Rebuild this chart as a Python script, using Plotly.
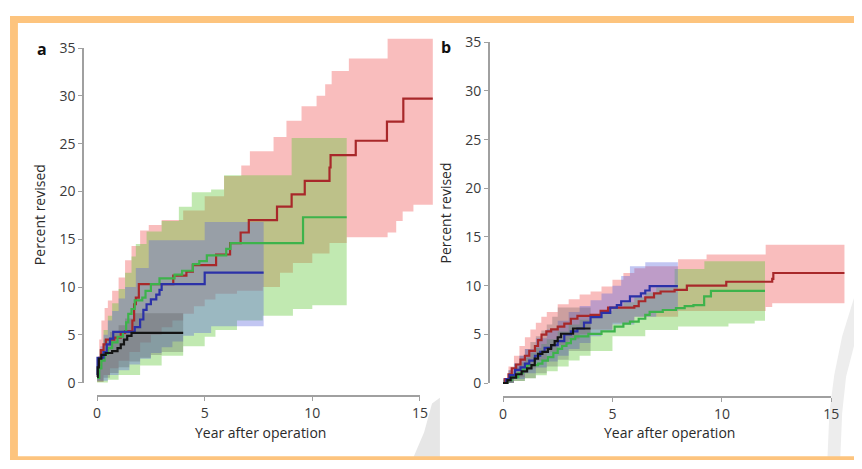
import plotly.graph_objects as go

# ---------------- Panel a data ----------------
A_RED_T = [0, 0.05, 0.1, 0.18, 0.3, 0.41, 0.8, 1.1, 1.3, 1.64, 1.72, 1.8, 1.94, 3.54, 4.15, 4.45, 5.53, 6.18, 6.67, 7.05, 8.36, 9.04, 9.65, 10.8, 10.85, 12.02, 13.47, 14.23]
A_RED_V = [0.8, 1.8, 2.6, 3.4, 4.0, 4.5, 4.7, 5.2, 5.4, 6.5, 8.2, 8.9, 10.3, 11.2, 11.6, 12.3, 13.4, 14.6, 15.7, 17.0, 18.4, 19.7, 21.1, 22.5, 23.8, 25.3, 27.3, 29.7]
A_RED_END = 15.6
A_GRN_T = [0, 0.1, 0.2, 0.35, 0.5, 0.7, 0.95, 1.2, 1.35, 1.45, 1.6, 1.75, 2.1, 2.25, 2.5, 2.9, 3.6, 3.95, 4.45, 4.75, 5.1, 6.0, 6.2, 9.57]
A_GRN_V = [0.5, 1.5, 2.3, 3.0, 3.6, 4.2, 4.8, 5.3, 6.3, 7.2, 7.7, 8.6, 8.9, 9.6, 10.3, 10.9, 11.3, 11.7, 12.4, 12.7, 13.3, 14.0, 14.6, 17.3]
A_GRN_END = 11.6
A_BLU_T = [0, 0.02, 0.3, 0.45, 0.6, 0.75, 1.75, 2.0, 2.15, 2.3, 2.5, 2.75, 2.9, 3.0, 5.0]
A_BLU_V = [0.8, 2.6, 3.2, 4.0, 4.6, 5.3, 5.8, 6.6, 7.6, 8.2, 8.7, 9.2, 9.7, 10.3, 11.5]
A_BLU_END = 7.74
A_BLK_T = [0, 0.03, 0.08, 0.2, 0.4, 0.7, 0.95, 1.1, 1.25, 1.4, 1.6]
A_BLK_V = [0.6, 1.6, 2.5, 2.9, 3.1, 3.3, 3.6, 4.0, 4.5, 4.9, 5.2]
A_BLK_END = 4.0

A_RED_UT = [0, 0.1, 0.2, 0.35, 0.5, 0.7, 1.0, 1.3, 1.6, 2.0, 2.4, 3.0, 4.0, 5.0, 5.9, 6.7, 7.1, 8.2, 8.8, 9.5, 10.2, 10.6, 10.9, 11.7, 13.5]
A_RED_UP = [2.0, 4.5, 6.5, 7.8, 8.6, 9.6, 11.0, 12.8, 14.3, 15.9, 16.5, 17.0, 18.0, 19.5, 21.6, 22.7, 24.2, 25.7, 27.4, 28.9, 30.0, 31.2, 32.6, 33.9, 36.0]
A_RED_LT = [0, 0.3, 0.6, 1.0, 1.5, 2.0, 2.5, 3.0, 3.5, 4.0, 4.5, 5.0, 5.5, 6.5, 7.7, 8.5, 9.1, 10.0, 10.8, 11.6, 13.5, 13.9, 14.2, 14.7]
A_RED_LO = [0.1, 0.8, 1.5, 2.3, 3.2, 4.2, 5.0, 5.8, 6.5, 7.2, 8.0, 8.7, 9.3, 9.6, 10.0, 11.5, 12.5, 13.5, 14.6, 15.2, 15.7, 16.9, 17.9, 18.6]
A_GRN_UT = [0, 0.15, 0.3, 0.5, 0.7, 1.0, 1.3, 1.6, 1.8, 2.3, 3.0, 3.8, 4.4, 5.3, 5.9, 9.04]
A_GRN_UP = [1.5, 3.5, 5.5, 7.0, 8.3, 9.8, 11.5, 13.2, 14.5, 15.8, 16.9, 18.4, 19.9, 20.2, 21.7, 25.6]
A_GRN_LT = [0, 0.5, 1.0, 2.0, 3.0, 4.0, 5.0, 5.5, 6.5, 7.7, 9.1, 10.0]
A_GRN_LO = [0.0, 0.3, 0.8, 1.8, 2.8, 3.8, 4.8, 5.5, 6.5, 7.0, 7.7, 8.1]
A_BLU_UT = [0, 0.15, 0.3, 0.5, 0.7, 1.0, 1.3, 1.8, 2.4, 5.0]
A_BLU_UP = [2.0, 3.8, 5.0, 6.5, 7.5, 8.8, 10.0, 12.0, 14.9, 16.8]
A_BLU_LT = [0, 0.5, 1.0, 1.5, 2.0, 2.5, 3.0, 3.5, 4.0, 4.5, 5.3]
A_BLU_LO = [0.2, 0.8, 1.3, 1.9, 2.5, 3.1, 3.7, 4.3, 4.9, 5.2, 5.9]
A_BLK_UT = [0, 0.1, 0.3, 0.6, 1.0, 1.3, 1.7]
A_BLK_UP = [1.5, 3.5, 4.5, 5.3, 6.0, 6.7, 7.25]
A_BLK_LT = [0, 0.3, 0.6, 1.0, 1.5, 2.0, 2.5, 3.0]
A_BLK_LO = [0.1, 0.5, 1.0, 1.6, 2.2, 2.6, 2.9, 3.2]

# ---------------- Panel b data ----------------
B_RED_T = [0, 0.1, 0.25, 0.4, 0.6, 0.8, 1.0, 1.2, 1.46, 1.6, 1.76, 1.98, 2.2, 2.5, 2.8, 3.1, 3.4, 4.0, 4.46, 4.8, 6.0, 6.2, 6.5, 6.9, 7.2, 7.84, 8.4, 10.2, 12.3, 12.35]
B_RED_V = [0, 0.4, 0.9, 1.5, 1.9, 2.4, 2.8, 3.3, 3.8, 4.4, 4.96, 5.3, 5.5, 5.8, 6.1, 6.6, 6.9, 7.0, 7.4, 7.75, 7.9, 8.4, 8.8, 9.2, 9.4, 9.56, 10.0, 10.4, 10.7, 11.3]
B_RED_END = 15.6
B_GRN_T = [0, 0.2, 0.4, 0.7, 0.9, 1.1, 1.6, 1.8, 2.05, 2.3, 2.5, 2.7, 2.9, 3.1, 3.3, 3.9, 4.5, 5.1, 5.5, 5.8, 6.2, 6.5, 6.7, 7.3, 7.9, 8.3, 8.7, 9.19, 9.5]
B_GRN_V = [0, 0.3, 0.6, 1.0, 1.4, 1.84, 2.0, 2.3, 2.66, 3.1, 3.5, 3.8, 4.1, 4.5, 4.8, 5.05, 5.3, 5.8, 6.1, 6.3, 6.6, 7.0, 7.3, 7.5, 7.7, 7.9, 8.0, 8.9, 9.46]
B_GRN_END = 11.97
B_BLU_T = [0, 0.15, 0.3, 0.55, 0.8, 1.0, 1.2, 1.46, 1.7, 1.9, 2.2, 2.5, 2.8, 3.1, 3.4, 3.7, 4.0, 4.5, 4.9, 5.2, 5.4, 5.8, 6.3, 6.5, 6.7]
B_BLU_V = [0, 0.4, 0.8, 1.35, 1.6, 2.0, 2.3, 2.8, 3.2, 3.6, 3.9, 4.3, 5.0, 5.3, 5.6, 6.2, 6.77, 7.2, 7.75, 8.0, 8.4, 8.9, 9.2, 9.5, 9.95]
B_BLU_END = 7.99
B_BLK_T = [0, 0.2, 0.35, 0.6, 0.85, 1.1, 1.3, 1.45, 1.6, 1.8, 2.05, 2.2, 2.36, 2.5, 2.65, 3.2]
B_BLK_V = [0, 0.3, 0.55, 0.9, 1.2, 1.5, 1.84, 2.5, 3.0, 3.2, 3.5, 3.9, 4.3, 4.7, 5.06, 5.6]
B_BLK_END = 4.0

B_RED_UT = [0, 0.25, 0.5, 0.75, 1.0, 1.25, 1.5, 1.75, 2.0, 2.5, 3.0, 3.5, 4.0, 4.5, 5.0, 5.5, 6.0, 6.5, 8.0, 9.3, 12.0]
B_RED_UP = [0.5, 1.7, 2.8, 3.8, 4.7, 5.5, 6.2, 6.8, 7.3, 8.1, 8.6, 9.1, 9.4, 9.9, 10.6, 11.3, 11.8, 12.0, 12.7, 13.2, 14.2]
B_RED_LT = [0, 0.5, 1.0, 1.5, 2.0, 2.5, 3.0, 3.5, 4.0, 5.0, 6.0, 8.0, 12.0, 12.3]
B_RED_LO = [0, 0.6, 1.5, 2.3, 3.2, 3.9, 4.5, 5.0, 5.5, 6.2, 6.8, 7.4, 7.8, 8.2]
B_GRN_UT = [0, 0.25, 0.5, 0.75, 1.0, 1.25, 1.5, 1.75, 2.0, 2.5, 3.0, 3.5, 4.0, 4.5, 5.0, 5.5, 6.0, 6.5, 7.0, 7.84, 9.2]
B_GRN_UP = [0.3, 1.0, 1.6, 2.1, 2.6, 3.1, 3.6, 4.0, 4.5, 5.3, 6.0, 6.5, 7.0, 7.4, 7.8, 8.3, 8.8, 9.3, 9.8, 11.7, 12.5]
B_GRN_LT = [0, 0.5, 1.0, 1.5, 2.0, 2.5, 3.0, 3.5, 4.0, 5.0, 6.5, 8.0, 10.3, 11.5]
B_GRN_LO = [0, 0.2, 0.5, 0.8, 1.2, 1.7, 2.3, 2.8, 3.3, 4.8, 5.45, 5.8, 6.1, 6.4]
B_BLU_UT = [0, 0.25, 0.5, 0.75, 1.0, 1.5, 2.0, 2.5, 3.0, 3.5, 4.0, 4.5, 5.0, 5.4, 5.8, 6.5]
B_BLU_UP = [0.5, 1.3, 2.0, 2.8, 3.5, 4.6, 5.5, 6.4, 7.3, 7.9, 8.5, 9.2, 10.0, 11.0, 12.0, 12.4]
B_BLU_LT = [0, 0.5, 1.0, 1.5, 2.0, 2.5, 3.0, 3.5, 4.0, 4.5, 5.0, 6.0, 7.0]
B_BLU_LO = [0, 0.4, 1.0, 1.6, 2.2, 2.8, 3.5, 4.1, 4.8, 5.4, 6.0, 6.8, 7.4]
B_BLK_UT = [0, 0.25, 0.5, 0.75, 1.0, 1.25, 1.5, 1.75, 2.0, 2.25, 2.5]
B_BLK_UP = [0.5, 1.3, 2.0, 2.8, 3.5, 4.2, 4.8, 5.4, 6.0, 6.8, 7.75]
B_BLK_LT = [0, 0.5, 1.0, 1.5, 2.0, 2.5, 3.0]
B_BLK_LO = [0, 0.2, 0.5, 1.0, 1.7, 2.4, 3.3]

X_TICKS = [0, 5, 10, 15]
Y_TICKS = [0, 5, 10, 15, 20, 25, 30, 35]
X_TITLE = "Year after operation"
Y_TITLE = "Percent revised"
PANELS = ["a", "b"]

LINE_COL = {"red": "#a8282a", "grn": "#3db34b", "blu": "#2b31a8", "blk": "#141414"}
BAND_COL = {"red": "rgba(240,90,90,0.40)", "grn": "rgba(100,200,60,0.40)",
            "blu": "rgba(90,100,220,0.37)", "blk": "rgba(70,70,70,0.25)"}
FONT = "Open Sans"

# the browser body has an 8px margin, so the figure sits 8px in
OFF = 8
W, H = 862 - OFF, 469 - OFF


def px(p):
    return (p - OFF) / W


def py(p):
    return 1 - (p - OFF) / H


def step_xy(t, v, end):
    xs, ys = [], []
    for i in range(len(t)):
        if i > 0:
            xs.append(t[i]); ys.append(v[i - 1])
        xs.append(t[i]); ys.append(v[i])
    xs.append(end); ys.append(v[-1])
    return xs, ys


def band(ut, up, lt, lo, end, col, xa, ya):
    ux, uy = step_xy(ut, up, end)
    lx, ly = step_xy(lt, lo, end)
    return go.Scatter(x=ux + lx[::-1], y=uy + ly[::-1], fill="toself", fillcolor=col,
                      line=dict(width=0), mode="lines", xaxis=xa, yaxis=ya,
                      showlegend=False, hoverinfo="skip")


def kline(t, v, end, col, xa, ya):
    return go.Scatter(x=t + [end], y=v + [v[-1]], mode="lines", line_shape="hv",
                      line=dict(color=col, width=2.2), xaxis=xa, yaxis=ya,
                      showlegend=False, hoverinfo="skip")


fig = go.Figure()
A = {
    "red": (A_RED_T, A_RED_V, A_RED_END, A_RED_UT, A_RED_UP, A_RED_LT, A_RED_LO),
    "grn": (A_GRN_T, A_GRN_V, A_GRN_END, A_GRN_UT, A_GRN_UP, A_GRN_LT, A_GRN_LO),
    "blu": (A_BLU_T, A_BLU_V, A_BLU_END, A_BLU_UT, A_BLU_UP, A_BLU_LT, A_BLU_LO),
    "blk": (A_BLK_T, A_BLK_V, A_BLK_END, A_BLK_UT, A_BLK_UP, A_BLK_LT, A_BLK_LO),
}
B = {
    "red": (B_RED_T, B_RED_V, B_RED_END, B_RED_UT, B_RED_UP, B_RED_LT, B_RED_LO),
    "grn": (B_GRN_T, B_GRN_V, B_GRN_END, B_GRN_UT, B_GRN_UP, B_GRN_LT, B_GRN_LO),
    "blu": (B_BLU_T, B_BLU_V, B_BLU_END, B_BLU_UT, B_BLU_UP, B_BLU_LT, B_BLU_LO),
    "blk": (B_BLK_T, B_BLK_V, B_BLK_END, B_BLK_UT, B_BLK_UP, B_BLK_LT, B_BLK_LO),
}
for data, xa, ya in ((A, "x", "y"), (B, "x2", "y2")):
    for k in ("red", "grn", "blu", "blk"):
        t, v, e, ut, up, lt, lo = data[k]
        fig.add_trace(band(ut, up, lt, lo, e, BAND_COL[k], xa, ya))
    for k in ("red", "grn", "blu", "blk"):
        t, v, e, ut, up, lt, lo = data[k]
        fig.add_trace(kline(t, v, e, LINE_COL[k], xa, ya))

# empty traces so that the tick-only axes are drawn
for xa, ya in (("x3", "y3"), ("x4", "y4")):
    fig.add_trace(go.Scatter(x=[None], y=[None], xaxis=xa, yaxis=ya, showlegend=False, hoverinfo="skip"))

# pixel geometry of the reference
A_X0, A_X15, A_YAX = 94.3, 421.7, 80.0
A_Y0, A_Y35, A_XAX = 388.3, 39.3, 402.7
B_X0, B_X15, B_YAX = 506.0, 839.0, 491.7
B_Y0, B_Y35, B_XAX = 388.7, 33.3, 403.3
TOP, BOT = 29.3, 402.0


def data_axes(x0, x15, yax, right, y0, y35):
    sx = (x15 - x0) / 15.0
    sy = (y0 - y35) / 35.0
    xr = [(yax - x0) / sx, (right - x0) / sx]
    yr = [(y0 - BOT) / sy, (y0 - TOP) / sy]
    return [px(yax), px(right)], xr, [py(BOT), py(TOP)], yr


axcommon = dict(showgrid=False, zeroline=False)
xd, xr, yd, yr = data_axes(A_X0, A_X15, A_YAX, 436, A_Y0, A_Y35)
fig.update_layout(xaxis=dict(domain=xd, range=xr, visible=False, anchor="y", **axcommon),
                  yaxis=dict(domain=yd, range=yr, visible=False, anchor="x", **axcommon))
xd, xr, yd, yr = data_axes(B_X0, B_X15, B_YAX, 853, B_Y0, B_Y35)
fig.update_layout(xaxis2=dict(domain=xd, range=xr, visible=False, anchor="y2", **axcommon),
                  yaxis2=dict(domain=yd, range=yr, visible=False, anchor="x2", **axcommon))

tickfont = dict(family=FONT, size=14, color="#3a3a3a")
tickax = dict(showline=True, linecolor="#a0a0a0", linewidth=1.5, ticks="outside", ticklen=4,
              tickcolor="#a0a0a0", tickwidth=1.2, tickfont=tickfont, anchor="free", **axcommon)
fig.update_layout(
    xaxis3=dict(domain=[px(A_X0), px(A_X15)], range=[0, 15], tickvals=X_TICKS, position=py(A_XAX), **tickax),
    yaxis3=dict(domain=[py(A_Y0), py(A_Y35)], range=[0, 35], tickvals=Y_TICKS, position=px(A_YAX), **tickax),
    xaxis4=dict(domain=[px(B_X0), px(B_X15)], range=[0, 15], tickvals=X_TICKS, position=py(B_XAX), **tickax),
    yaxis4=dict(domain=[py(B_Y0), py(B_Y35)], range=[0, 35], tickvals=Y_TICKS, position=px(B_YAX), **tickax),
)

ann = []
tf = dict(family=FONT, size=14, color="#2a2a2a")
for (lx, ly), (ytx, yty), (xtx, xty), lab in (((38, 40), (36, 213), (260, 440), PANELS[0]),
                                              ((448, 38), (448, 211), (675, 440), PANELS[1])):
    ann.append(dict(x=px(lx), y=py(ly), xref="paper", yref="paper", text="<b>%s</b>" % lab,
                    showarrow=False, font=dict(family=FONT, size=16, color="#111"),
                    xanchor="center", yanchor="middle"))
    ann.append(dict(x=px(ytx), y=py(yty), xref="paper", yref="paper", text=Y_TITLE, textangle=-90,
                    showarrow=False, font=tf, xanchor="center", yanchor="middle"))
    ann.append(dict(x=px(xtx), y=py(xty), xref="paper", yref="paper", text=X_TITLE,
                    showarrow=False, font=tf, xanchor="center", yanchor="middle"))


def paper_path(pts):
    return "M " + " L ".join("%.5f,%.5f" % (px(a), py(b)) for a, b in pts) + " Z"


ORANGE = "#fdc47e"
WMARK = "#e6e6e6"
shapes = [
    # faint publisher watermark strokes
    dict(type="path", xref="paper", yref="paper", layer="below", fillcolor=WMARK, line=dict(width=0),
         path=paper_path([(414, 469), (442, 469), (442, 404), (434, 410), (426, 440)])),
    dict(type="path", xref="paper", yref="paper", layer="below", fillcolor="#ededed", line=dict(width=0),
         path=paper_path([(862, 300), (850, 340), (842, 380), (837, 420), (835, 469),
                          (848, 469), (850, 420), (854, 382), (862, 350)])),
    # orange frame
    dict(type="rect", xref="paper", yref="paper", x0=px(6), x1=px(14), y0=py(469), y1=py(6),
         fillcolor=ORANGE, line=dict(width=0), layer="above"),
    dict(type="rect", xref="paper", yref="paper", x0=px(6), x1=px(862), y0=py(13.3), y1=py(6),
         fillcolor=ORANGE, line=dict(width=0), layer="above"),
    dict(type="rect", xref="paper", yref="paper", x0=px(6), x1=px(862), y0=py(469), y1=py(465),
         fillcolor=ORANGE, line=dict(width=0), layer="above"),
]

fig.update_layout(width=W, height=H, margin=dict(l=0, r=0, t=0, b=0),
                  paper_bgcolor="white", plot_bgcolor="rgba(0,0,0,0)",
                  annotations=ann, shapes=shapes, showlegend=False)
fig.write_html("out.html")
